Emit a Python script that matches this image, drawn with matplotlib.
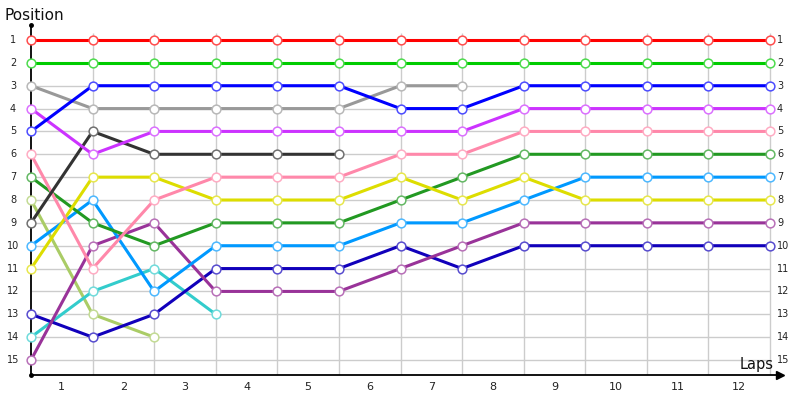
import matplotlib.pyplot as plt
import matplotlib.colors as mcolors
import numpy as np

# positions at each lap boundary (index 0 = start)
red = [1, 1, 1, 1, 1, 1, 1, 1, 1, 1, 1, 1, 1]
green = [2, 2, 2, 2, 2, 2, 2, 2, 2, 2, 2, 2, 2]
blue = [5, 3, 3, 3, 3, 3, 4, 4, 3, 3, 3, 3, 3]
gray = [3, 4, 4, 4, 4, 4, 3, 3]
violet = [4, 6, 5, 5, 5, 5, 5, 5, 4, 4, 4, 4, 4]
black = [9, 5, 6, 6, 6, 6]
pink = [6, 11, 8, 7, 7, 7, 6, 6, 5, 5, 5, 5, 5]
yellow = [11, 7, 7, 8, 8, 8, 7, 8, 7, 8, 8, 8, 8]
darkgreen = [7, 9, 10, 9, 9, 9, 8, 7, 6, 6, 6, 6, 6]
skyblue = [10, 8, 12, 10, 10, 10, 9, 9, 8, 7, 7, 7, 7]
plum = [15, 10, 9, 12, 12, 12, 11, 10, 9, 9, 9, 9, 9]
navy = [13, 14, 13, 11, 11, 11, 10, 11, 10, 10, 10, 10, 10]
teal = [14, 12, 11, 13]
olive = [8, 13, 14]

lap_labels = [str(i) for i in range(1, 13)]
positions = list(range(1, 16))

series = [
    (olive, '#aacc66'),
    (teal, '#33cccc'),
    (navy, '#1100bb'),
    (plum, '#993399'),
    (skyblue, '#0099ff'),
    (darkgreen, '#229922'),
    (yellow, '#dddd00'),
    (pink, '#ff88aa'),
    (black, '#333333'),
    (violet, '#cc33ff'),
    (gray, '#999999'),
    (blue, '#0000ff'),
    (green, '#00cc00'),
    (red, '#ff0000'),
]


def lighter(c, amount=0.3):
    r, g, b = mcolors.to_rgb(c)
    return (r + (1 - r) * amount, g + (1 - g) * amount, b + (1 - b) * amount)


n_laps = len(lap_labels)
fig = plt.figure(figsize=(8, 4), dpi=100)
ax = fig.add_axes([31 / 800, 25 / 400, 749 / 800, 350 / 400])
x_max = n_laps * 749 / 739
y_top = 1 - 15 / 22.857
y_bot = 15 + 15 / 22.857
ax.set_xlim(0, x_max)
ax.set_ylim(y_bot, y_top)

# grid
ax.hlines(positions, 0, n_laps, color='#cccccc', lw=1, zorder=1)
ax.vlines(range(1, n_laps + 1), y_top + 8 / 22.857, y_bot, color='#cccccc', lw=1, zorder=1)

for vals, col in series:
    xs = np.arange(len(vals))
    ax.plot(xs, vals, color=col, lw=2.2, zorder=3, solid_capstyle='butt',
            marker='o', markersize=6.3, markerfacecolor='white',
            markeredgecolor=lighter(col), markeredgewidth=1.1, clip_on=False)

for s in ['top', 'right']:
    ax.spines[s].set_visible(False)
ax.spines['left'].set_color('black')
ax.spines['bottom'].set_color('black')
ax.spines['left'].set_linewidth(1.3)
ax.spines['bottom'].set_linewidth(1.3)
ax.set_xticks([])
ax.set_yticks([])

# axis decorations
ax.plot([1], [0], marker='>', color='black', markersize=6, transform=ax.transAxes, clip_on=False, zorder=5)
ax.plot([0], [1], marker='o', color='black', markersize=2.5, transform=ax.transAxes, clip_on=False, zorder=5)
ax.plot([0], [0], marker='o', color='black', markersize=2.5, transform=ax.transAxes, clip_on=False, zorder=5)

tr = ax.get_yaxis_transform()
for p in positions:
    ax.text(-18 / 749, p, str(p), transform=tr, ha='center', va='center', fontsize=7, color='#222222')
    ax.text(n_laps + 7 / 739 * n_laps, p, str(p), ha='left', va='center', fontsize=7, color='#222222')

for i, lab in enumerate(lap_labels):
    ax.text(i + 0.5, y_bot + 12 / 22.857, lab, ha='center', va='center', fontsize=8, color='#222222', clip_on=False)

fig.text(4 / 800, 1 - 16 / 400, 'Position', ha='left', va='center', fontsize=11, color='#111111')
fig.text(774 / 800, 1 - 364 / 400, 'Laps', ha='right', va='center', fontsize=10.5, color='#111111')

fig.savefig('out.png', dpi=100)
